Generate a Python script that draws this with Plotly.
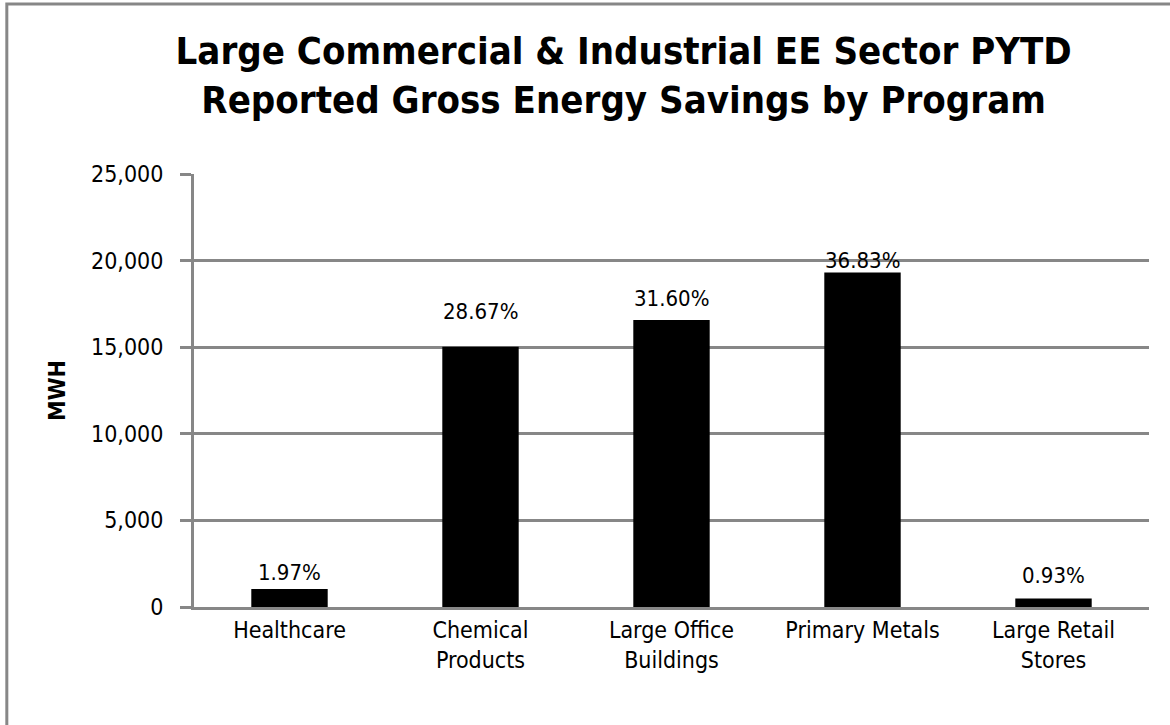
import plotly.graph_objects as go

categories = ["Healthcare", "Chemical<br>Products", "Large Office<br>Buildings", "Primary Metals", "Large Retail<br>Stores"]
mwh_values = [1033, 15029, 16565, 19306, 488]
pct_labels = ["1.97%", "28.67%", "31.60%", "36.83%", "0.93%"]
label_gaps = [2, 21, 7, -2, 9]
y_ticks = [0, 5000, 10000, 15000, 20000, 25000]
y_tick_labels = ["0", "5,000", "10,000", "15,000", "20,000", "25,000"]

FONT = "Liberation Sans Narrow, DejaVu Sans Condensed, Arial Narrow, sans-serif"
GRAY = "#878787"

fig = go.Figure(go.Bar(
    x=categories, y=mwh_values,
    marker=dict(color="#000000", line=dict(width=0)),
    hovertemplate="%{x}: %{y:,}<extra></extra>",
))

annotations = []
for c, v, t, g in zip(categories, mwh_values, pct_labels, label_gaps):
    annotations.append(dict(x=c, y=v, text=t, showarrow=False, xref="x", yref="y",
                            yanchor="bottom", yshift=g,
                            font=dict(family=FONT, size=22, color="#000000")))

fig.update_layout(
    width=1170, height=725,
    margin=dict(l=194, r=21, t=174, b=118),
    paper_bgcolor="white", plot_bgcolor="white",
    showlegend=False,
    bargap=0.6,
    annotations=annotations,
    title=dict(
        text="<b>Large Commercial & Industrial EE Sector PYTD<br>Reported Gross Energy Savings by Program</b>",
        x=0.533, xanchor="center", y=0.912, yanchor="middle",
        font=dict(family=FONT, size=38, color="#000000"),
    ),
    font=dict(family=FONT, color="#000000"),
    shapes=[dict(type="rect", xref="paper", yref="paper",
                 x0=-0.196, x1=1.2, y0=-0.6, y1=1.3926,
                 line=dict(color=GRAY, width=3), layer="below")],
)

fig.update_xaxes(
    showline=True, linecolor=GRAY, linewidth=3,
    ticks="", tickfont=dict(family=FONT, size=23, color="#000000"),
    showgrid=False, ticklabelstandoff=0,
)
fig.update_yaxes(
    range=[0, 25000], tickvals=y_ticks, ticktext=y_tick_labels,
    showline=True, linecolor=GRAY, linewidth=3,
    ticks="outside", ticklen=11, tickwidth=3, tickcolor=GRAY,
    showgrid=True, gridcolor=GRAY, gridwidth=3,
    tickfont=dict(family=FONT, size=23, color="#000000"),
    ticklabelstandoff=12,
    title=dict(text="<b>MWH</b>", font=dict(family=FONT, size=23, color="#000000"), standoff=19),
    zeroline=False,
)

fig.write_html("out.html", config={"responsive": False, "displayModeBar": False},
               post_script="document.body.style.margin='0';document.body.style.overflow='hidden';")
